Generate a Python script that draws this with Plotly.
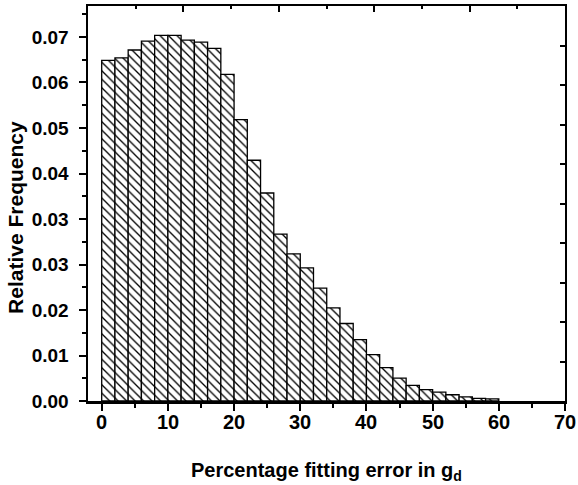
import plotly.graph_objects as go

# ---- data ----
bin_starts = [0, 2, 4, 6, 8, 10, 12, 14, 16, 18, 20, 22, 24, 26, 28,
              30, 32, 34, 36, 38, 40, 42, 44, 46, 48, 50, 52, 54, 56, 58]
rel_freq = [0.0655, 0.0660, 0.0675, 0.0692, 0.0703, 0.0703, 0.0694, 0.0690,
            0.0678, 0.0628, 0.0541, 0.0463, 0.0400, 0.0321, 0.0283, 0.0256,
            0.0217, 0.0179, 0.0149, 0.0118, 0.0089, 0.0064, 0.0044, 0.0030,
            0.0022, 0.0017, 0.0012, 0.0008, 0.0005, 0.0004]
bin_width = 2

x_tickvals = [0, 10, 20, 30, 40, 50, 60, 70]
y_tickvals = [0.0, 0.00875, 0.0175, 0.02625, 0.035, 0.04375, 0.0525, 0.06125, 0.07]
y_ticktext = ["0.00", "0.01", "0.02", "0.03", "0.03", "0.04", "0.05", "0.06", "0.07"]

x_label = "Percentage fitting error in g<sub>d</sub>"
y_label = "Relative Frequency"

FONT = "Liberation Sans, Arial, sans-serif"

centers = [s + bin_width / 2 for s in bin_starts]

fig = go.Figure()
fig.add_trace(go.Bar(
    x=centers, y=rel_freq, width=bin_width,
    marker=dict(
        color="white",
        line=dict(color="black", width=1.3),
        pattern=dict(shape="\\", fgcolor="black", bgcolor="white",
                     size=6, solidity=0.22, fillmode="replace"),
    ),
    showlegend=False, hoverinfo="skip",
))
# dummy trace for mirror axes
fig.add_trace(go.Scatter(x=[None], y=[None], xaxis="x2", yaxis="y2",
                         showlegend=False, hoverinfo="skip"))

# x tick labels as annotations
x_tick_annotations = [
    dict(text=str(v), xref="x", yref="paper", x=v, y=-0.052,
         xanchor="center", yanchor="middle", showarrow=False,
         font=dict(family=FONT, size=20, color="black", weight="bold"))
    for v in x_tickvals
]

fig.update_layout(
    width=578, height=485,
    margin=dict(l=88, r=13, t=6, b=84),
    paper_bgcolor="white", plot_bgcolor="white",
    font=dict(family=FONT, color="black"),
    bargap=0,
    xaxis=dict(
        range=[-2.07, 70], tickvals=x_tickvals, showticklabels=False,
        showgrid=False, zeroline=False,
        showline=True, linecolor="black", linewidth=2.5,
        ticks="outside", ticklen=7, tickwidth=2, tickcolor="black",
        minor=dict(ticks="outside", ticklen=4, tickwidth=2, tickcolor="black", dtick=5, tick0=0),
    ),
    yaxis=dict(
        range=[0, 0.07596], tickvals=y_tickvals, ticktext=y_ticktext,
        showgrid=False, zeroline=False,
        showline=True, linecolor="black", linewidth=2.5,
        ticks="outside", ticklen=7, tickwidth=2, tickcolor="black",
        minor=dict(ticks="outside", ticklen=4, tickwidth=2, tickcolor="black", dtick=0.004375, tick0=0),
        tickfont=dict(family=FONT, size=19, color="black", weight="bold"),
        ticklabelstandoff=6,
    ),
    xaxis2=dict(
        overlaying="x", side="top", anchor="y", range=[0, 10], dtick=2,
        showgrid=False, zeroline=False, showticklabels=False,
        showline=True, linecolor="black", linewidth=2,
        ticks="inside", ticklen=6, tickwidth=2, tickcolor="black",
        minor=dict(ticks="inside", ticklen=3, tickwidth=2, tickcolor="black", dtick=1, tick0=0),
    ),
    yaxis2=dict(
        overlaying="y", side="right", anchor="x", range=[0, 10], dtick=1,
        showgrid=False, zeroline=False, showticklabels=False,
        showline=True, linecolor="black", linewidth=2,
        ticks="inside", ticklen=5, tickwidth=2, tickcolor="black",
    ),
    annotations=x_tick_annotations + [
        dict(text=x_label, xref="paper", yref="paper", x=0.5, y=-0.178,
             xanchor="center", yanchor="middle", showarrow=False,
             font=dict(family=FONT, size=20, color="black", weight="bold")),
        dict(text=y_label, xref="paper", yref="paper", x=-0.151, y=0.466,
             xanchor="center", yanchor="middle", showarrow=False, textangle=-90,
             font=dict(family=FONT, size=21, color="black", weight="bold")),
    ],
)

fig.write_html("out.html",
               config={"displayModeBar": False, "staticPlot": True},
               post_script="document.body.style.margin='0';document.body.style.overflow='hidden';")
